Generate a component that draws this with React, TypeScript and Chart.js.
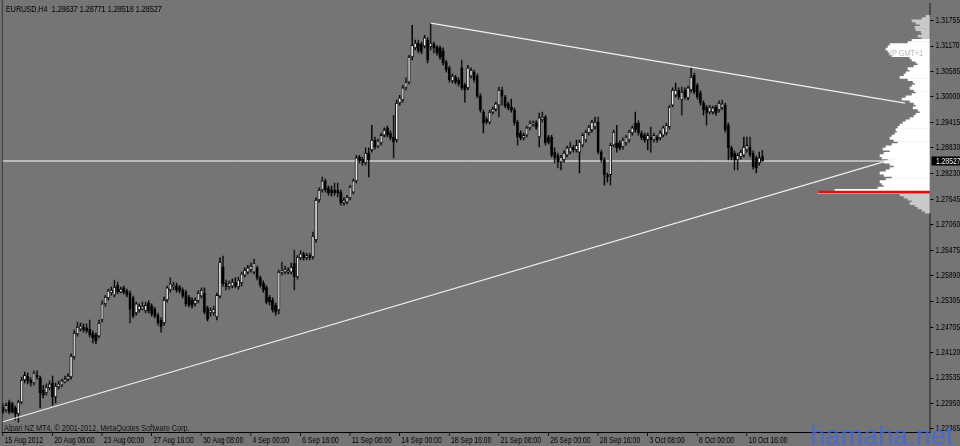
import React, { useEffect, useRef } from 'react';
import { Chart, registerables } from 'chart.js';

Chart.register(...registerables);

const symbolName = 'EURUSD,H4';
const copyrightText = 'Alpari NZ MT4, \u00A9 2001-2012, MetaQuotes Software Corp.';
const vpLabel = 'VP GMT+1';
const watermark = 'hamaha.net';

const opens = [
  1.2287,1.2280,1.2298,1.2294,1.2285,1.2271,1.2298,1.2349,1.2358,1.2349,
  1.2342,1.2360,1.2354,1.2326,1.2319,1.2331,1.2342,1.2310,1.2333,1.2337,
  1.2344,1.2351,1.2356,1.2402,1.2455,1.2466,1.2471,1.2469,1.2466,1.2457,
  1.2452,1.2450,1.2487,1.2524,1.2538,1.2549,1.2544,1.2567,1.2551,1.2561,
  1.2554,1.2549,1.2538,1.2503,1.2510,1.2512,1.2508,1.2526,1.2519,1.2512,
  1.2498,1.2487,1.2480,1.2533,1.2556,1.2563,1.2565,1.2563,1.2556,1.2551,
  1.2540,1.2533,1.2524,1.2531,1.2542,1.2549,1.2515,1.2503,1.2503,1.2494,
  1.2542,1.2609,1.2572,1.2563,1.2565,1.2574,1.2563,1.2572,1.2590,1.2597,
  1.2602,1.2597,1.2607,1.2584,1.2572,1.2563,1.2540,1.2533,1.2521,1.2510,
  1.2595,1.2597,1.2597,1.2597,1.2618,1.2586,1.2630,1.2639,1.2630,1.2636,
  1.2632,1.2671,1.2763,1.2786,1.2807,1.2791,1.2786,1.2786,1.2786,1.2781,
  1.2756,1.2758,1.2768,1.2781,1.2807,1.2862,1.2857,1.2848,1.2871,1.2878,
  1.2901,1.2887,1.2894,1.2912,1.2929,1.2917,1.2908,1.2901,1.2986,1.2993,
  1.3021,1.3034,1.3092,1.3113,1.3124,1.3122,1.3117,1.3131,1.3115,1.3122,
  1.3115,1.3113,1.3106,1.3080,1.3067,1.3037,1.3046,1.3039,1.3067,1.3027,
  1.3021,1.3048,1.3057,1.3048,1.3002,1.2965,1.2949,1.2942,1.2965,1.2972,
  1.2981,1.3016,1.3000,1.2984,1.2977,1.2970,1.2942,1.2917,1.2906,1.2912,
  1.2929,1.2938,1.2940,1.2908,1.2947,1.2954,1.2908,1.2908,1.2873,1.2866,
  1.2850,1.2855,1.2866,1.2873,1.2885,1.2878,1.2873,1.2889,1.2901,1.2917,
  1.2924,1.2931,1.2942,1.2873,1.2855,1.2821,1.2821,1.2889,1.2894,1.2894,
  1.2885,1.2894,1.2901,1.2917,1.2940,1.2940,1.2917,1.2912,1.2901,1.2908,
  1.2901,1.2908,1.2906,1.2912,1.2917,1.2931,1.2981,1.3004,1.3016,1.2993,
  1.3016,1.2998,1.3016,1.3050,1.3027,1.3009,1.2986,1.2977,1.2965,1.2965,
  1.2977,1.2970,1.2975,1.2981,1.2935,1.2883,1.2871,1.2855,1.2862,1.2866,
  1.2878,1.2885,1.2871,1.2860,1.2848,1.28637
];

const highs = [
  1.2294,1.2296,1.2303,1.2298,1.2289,1.2303,1.2356,1.2367,1.2365,1.2354,
  1.2370,1.2370,1.2358,1.2337,1.2340,1.2347,1.2358,1.2342,1.2347,1.2351,
  1.2358,1.2363,1.2409,1.2464,1.2482,1.2480,1.2478,1.2478,1.2487,1.2462,
  1.2457,1.2487,1.2531,1.2544,1.2558,1.2563,1.2579,1.2574,1.2563,1.2565,
  1.2558,1.2554,1.2542,1.2528,1.2524,1.2528,1.2528,1.2531,1.2524,1.2517,
  1.2503,1.2492,1.2540,1.2565,1.2584,1.2574,1.2572,1.2567,1.2561,1.2556,
  1.2544,1.2538,1.2538,1.2554,1.2561,1.2561,1.2519,1.2515,1.2519,1.2549,
  1.2630,1.2634,1.2579,1.2577,1.2581,1.2584,1.2586,1.2597,1.2607,1.2613,
  1.2618,1.2627,1.2611,1.2588,1.2577,1.2567,1.2544,1.2538,1.2526,1.2602,
  1.2620,1.2611,1.2607,1.2618,1.2648,1.2636,1.2646,1.2643,1.2641,1.2641,
  1.2689,1.2768,1.2791,1.2816,1.2811,1.2795,1.2795,1.2802,1.2802,1.2786,
  1.2768,1.2774,1.2797,1.2811,1.2866,1.2866,1.2862,1.2883,1.2883,1.2935,
  1.2908,1.2903,1.2917,1.2929,1.2933,1.2922,1.2958,1.2993,1.3004,1.3027,
  1.3044,1.3096,1.3165,1.3131,1.3131,1.3126,1.3142,1.3136,1.3170,1.3126,
  1.3119,1.3117,1.3113,1.3085,1.3071,1.3053,1.3050,1.3044,1.3085,1.3032,
  1.3073,1.3067,1.3062,1.3053,1.3007,1.2970,1.2954,1.2970,1.2977,1.2988,
  1.3023,1.3023,1.3004,1.2988,1.2995,1.2975,1.2947,1.2922,1.2917,1.2933,
  1.2945,1.2945,1.2945,1.2963,1.2965,1.2958,1.2912,1.2912,1.2883,1.2871,
  1.2866,1.2876,1.2887,1.2896,1.2889,1.2901,1.2901,1.2917,1.2924,1.2935,
  1.2947,1.2954,1.2954,1.2878,1.2860,1.2825,1.2894,1.2924,1.2935,1.2899,
  1.2906,1.2912,1.2924,1.2933,1.2965,1.2945,1.2922,1.2917,1.2917,1.2931,
  1.2917,1.2912,1.2922,1.2933,1.2940,1.2981,1.3021,1.3032,1.3021,1.3023,
  1.3021,1.3025,1.3069,1.3055,1.3032,1.3014,1.2991,1.2981,1.2981,1.2979,
  1.2981,1.2991,1.2993,1.2986,1.2940,1.2887,1.2876,1.2871,1.2878,1.2908,
  1.2908,1.2908,1.2876,1.2864,1.2873,1.28771
];

const lows = [
  1.2271,1.2275,1.2271,1.2273,1.2257,1.2252,1.2294,1.2342,1.2340,1.2335,
  1.2337,1.2351,1.2285,1.2308,1.2314,1.2326,1.2291,1.2296,1.2328,1.2333,
  1.2342,1.2347,1.2351,1.2397,1.2450,1.2462,1.2459,1.2457,1.2448,1.2434,
  1.2432,1.2446,1.2482,1.2519,1.2533,1.2544,1.2540,1.2547,1.2549,1.2547,
  1.2540,1.2480,1.2492,1.2498,1.2505,1.2510,1.2503,1.2503,1.2496,1.2492,
  1.2475,1.2459,1.2475,1.2528,1.2551,1.2556,1.2551,1.2549,1.2538,1.2519,
  1.2517,1.2515,1.2519,1.2526,1.2538,1.2501,1.2485,1.2496,1.2498,1.2487,
  1.2538,1.2565,1.2556,1.2558,1.2561,1.2561,1.2558,1.2565,1.2586,1.2593,
  1.2597,1.2593,1.2579,1.2563,1.2551,1.2524,1.2521,1.2505,1.2498,1.2501,
  1.2590,1.2593,1.2593,1.2593,1.2556,1.2581,1.2625,1.2625,1.2625,1.2625,
  1.2627,1.2666,1.2758,1.2781,1.2781,1.2774,1.2772,1.2774,1.2770,1.2751,
  1.2751,1.2754,1.2763,1.2777,1.2802,1.2848,1.2843,1.2843,1.2816,1.2873,
  1.2880,1.2883,1.2889,1.2908,1.2908,1.2901,1.2860,1.2896,1.2981,1.2988,
  1.3016,1.3030,1.3085,1.3108,1.3101,1.3099,1.3113,1.3078,1.3108,1.3101,
  1.3096,1.3087,1.3073,1.3057,1.3034,1.3032,1.3030,1.3025,1.3016,1.2988,
  1.3016,1.3044,1.3034,1.2998,1.2965,1.2917,1.2938,1.2938,1.2961,1.2968,
  1.2954,1.2981,1.2975,1.2970,1.2965,1.2935,1.2889,1.2901,1.2901,1.2908,
  1.2924,1.2933,1.2926,1.2885,1.2942,1.2889,1.2892,1.2862,1.2848,1.2837,
  1.2832,1.2850,1.2862,1.2869,1.2873,1.2873,1.2825,1.2885,1.2896,1.2912,
  1.2919,1.2926,1.2869,1.2850,1.2797,1.2804,1.2797,1.2885,1.2873,1.2878,
  1.2880,1.2889,1.2896,1.2912,1.2919,1.2912,1.2901,1.2896,1.2878,1.2873,
  1.2896,1.2896,1.2901,1.2908,1.2912,1.2926,1.2977,1.3000,1.2995,1.2958,
  1.2995,1.2993,1.3011,1.3007,1.2995,1.2981,1.2958,1.2935,1.2961,1.2961,
  1.2958,1.2965,1.2970,1.2919,1.2855,1.2855,1.2832,1.2832,1.2857,1.2862,
  1.2873,1.2862,1.2834,1.2825,1.2843,1.28518
];

const closes = [
  1.2275,1.2291,1.2275,1.2275,1.2271,1.2298,1.2349,1.2360,1.2347,1.2342,
  1.2365,1.2356,1.2319,1.2314,1.2333,1.2340,1.2310,1.2335,1.2340,1.2347,
  1.2351,1.2358,1.2404,1.2457,1.2471,1.2473,1.2464,1.2462,1.2452,1.2446,
  1.2439,1.2480,1.2524,1.2540,1.2554,1.2556,1.2563,1.2551,1.2558,1.2551,
  1.2544,1.2512,1.2496,1.2524,1.2519,1.2519,1.2521,1.2508,1.2501,1.2496,
  1.2480,1.2471,1.2533,1.2561,1.2570,1.2567,1.2556,1.2554,1.2542,1.2524,
  1.2521,1.2521,1.2533,1.2549,1.2556,1.2505,1.2489,1.2510,1.2512,1.2544,
  1.2620,1.2570,1.2563,1.2572,1.2574,1.2565,1.2579,1.2593,1.2602,1.2607,
  1.2611,1.2618,1.2584,1.2567,1.2556,1.2528,1.2528,1.2510,1.2505,1.2597,
  1.2602,1.2604,1.2602,1.2609,1.2586,1.2632,1.2639,1.2630,1.2636,1.2630,
  1.2680,1.2763,1.2786,1.2807,1.2786,1.2779,1.2779,1.2779,1.2779,1.2756,
  1.2763,1.2770,1.2793,1.2807,1.2860,1.2853,1.2848,1.2871,1.2855,1.2901,
  1.2885,1.2899,1.2912,1.2924,1.2912,1.2906,1.2896,1.2986,1.2998,1.3021,
  1.3034,1.3092,1.3119,1.3124,1.3106,1.3103,1.3136,1.3085,1.3124,1.3113,
  1.3101,1.3092,1.3078,1.3062,1.3039,1.3048,1.3034,1.3030,1.3021,1.3016,
  1.3067,1.3062,1.3039,1.3002,1.2970,1.2940,1.2942,1.2965,1.2972,1.2984,
  1.3016,1.3002,1.2979,1.2975,1.2970,1.2940,1.2908,1.2906,1.2912,1.2929,
  1.2940,1.2940,1.2931,1.2952,1.2954,1.2894,1.2896,1.2866,1.2860,1.2850,
  1.2862,1.2871,1.2883,1.2885,1.2878,1.2889,1.2896,1.2912,1.2919,1.2931,
  1.2942,1.2942,1.2873,1.2855,1.2821,1.2816,1.2889,1.2919,1.2883,1.2883,
  1.2901,1.2908,1.2919,1.2929,1.2924,1.2917,1.2906,1.2901,1.2912,1.2901,
  1.2912,1.2901,1.2917,1.2929,1.2935,1.2977,1.3016,1.3016,1.3000,1.3011,
  1.3000,1.3021,1.3046,1.3011,1.3000,1.2986,1.2970,1.2963,1.2977,1.2975,
  1.2963,1.2986,1.2984,1.2924,1.2883,1.2862,1.2855,1.2866,1.2873,1.2885,
  1.2889,1.2866,1.2839,1.2837,1.2860,1.28527
];

const xTickIndex = [0, 16, 32, 48, 64, 80, 96, 112, 128, 144, 160, 176, 192, 208, 224, 240];
const xTickLabels = [
  '15 Aug 2012', '20 Aug 08:00', '23 Aug 00:00', '27 Aug 16:00', '30 Aug 08:00',
  '4 Sep 00:00', '6 Sep 16:00', '11 Sep 08:00', '14 Sep 00:00', '18 Sep 16:00',
  '21 Sep 08:00', '26 Sep 00:00', '28 Sep 16:00', '3 Oct 08:00', '8 Oct 00:00', '10 Oct 16:00'
];
const yTickValues = [
  1.31755, 1.31170, 1.30585, 1.30000, 1.29415, 1.28830, 1.28230, 1.27645, 1.27060,
  1.26475, 1.25890, 1.25305, 1.24705, 1.24120, 1.23535, 1.22950, 1.22365
];

const upperTrend = [{ x: 138, y: 1.3170 }, { x: 291, y: 1.2986 }];
const lowerTrend = [{ x: 0, y: 1.2253 }, { x: 288.4, y: 1.2860 }];
const pocStart = 262.9;
const pocPrice = 1.2781;

const vpPrices = [
  1.3185,1.3180,1.3175,1.3170,1.3165,1.3160,1.3155,1.3150,1.3145,1.3140,
  1.3135,1.3130,1.3125,1.3120,1.3115,1.3110,1.3105,1.3100,1.3095,1.3090,
  1.3085,1.3080,1.3075,1.3070,1.3065,1.3060,1.3055,1.3050,1.3045,1.3040,
  1.3035,1.3030,1.3025,1.3020,1.3015,1.3010,1.3005,1.3000,1.2995,1.2990,
  1.2985,1.2980,1.2975,1.2970,1.2965,1.2960,1.2955,1.2950,1.2945,1.2940,
  1.2935,1.2930,1.2925,1.2920,1.2915,1.2910,1.2905,1.2900,1.2895,1.2890,
  1.2885,1.2880,1.2875,1.2870,1.2865,1.2860,1.2855,1.2850,1.2845,1.2840,
  1.2835,1.2830,1.2825,1.2820,1.2815,1.2810,1.2805,1.2800,1.2795,1.2790,
  1.2785,1.2780,1.2775,1.2770,1.2765,1.2760,1.2755,1.2750,1.2745,1.2740,
  1.2735
];
const vpVolumes = [
  4,8,18,14,10,15,14,9,8,12,
  8,18,22,40,42,44,42,40,38,20,
  18,14,12,16,22,20,24,26,30,22,
  17,15,18,20,16,14,18,24,28,20,
  16,14,17,12,10,14,16,20,24,27,
  30,32,34,33,35,38,40,36,32,38,
  44,47,40,46,50,48,42,46,40,36,
  40,44,50,46,38,44,50,48,46,52,
  95,112,30,26,22,18,20,15,12,8,
  5
];
const vpValueAreaHigh = 1.3132;
const vpValueAreaLow = 1.2778;

const BG = '#757575';
const FONT = "'Liberation Sans', Arial, sans-serif";
const W = 1200;
const H = 446;
const SX = 0.8;
const X_MIN = -0.3;
const X_MAX = 299.05;
const Y_MIN = 1.22294;
const Y_MAX = 1.32161;

export default function App() {
  const ref = useRef<HTMLCanvasElement | null>(null);

  useEffect(() => {
    document.body.style.margin = '0';
    const n = closes.length;
    const idx = closes.map((_, i) => i);
    const bid = closes[n - 1];
    const header = `${symbolName}  ${opens[n - 1].toFixed(5)} ${highs[n - 1].toFixed(5)} ${lows[n - 1].toFixed(5)} ${closes[n - 1].toFixed(5)}`;

    const decor = {
      id: 'decor',
      beforeDraw(chart: any) {
        const { ctx, width, height } = chart;
        ctx.save();
        ctx.fillStyle = BG;
        ctx.fillRect(0, 0, width, height);
        ctx.restore();
      },
      afterDraw(chart: any) {
        const { ctx, chartArea } = chart;
        const ys = chart.scales.y;
        ctx.save();
        ctx.strokeStyle = '#1c1c1c';
        ctx.lineWidth = 1;
        ctx.beginPath();
        ctx.moveTo(chartArea.left + 0.5, 0);
        ctx.lineTo(chartArea.left + 0.5, chartArea.bottom);
        ctx.stroke();

        ctx.fillStyle = '#000';
        ctx.font = `9px ${FONT}`;
        ctx.textAlign = 'left';
        ctx.textBaseline = 'alphabetic';
        ctx.fillText(header, 7.5, 11.5);
        ctx.fillStyle = '#111';
        ctx.fillText(copyrightText, 5, 430.5);

        ctx.fillStyle = '#b9b9b9';
        ctx.fillText(vpLabel, 1109, 55.5);

        const py = ys.getPixelForValue(bid);
        ctx.fillStyle = '#000';
        ctx.fillRect(chartArea.right + 2, py - 4.5, 40, 9);
        ctx.fillStyle = '#fff';
        ctx.font = `8.5px ${FONT}`;
        ctx.textBaseline = 'middle';
        ctx.fillText(bid.toFixed(5), chartArea.right + 7.5, py + 0.5);

        ctx.translate(1013, 445);
        ctx.scale(1.255, 1);
        ctx.font = `27px ${FONT}`;
        ctx.textBaseline = 'alphabetic';
        ctx.fillStyle = 'rgba(62,104,232,0.8)';
        ctx.fillText(watermark, 0, 0);
        ctx.restore();
      }
    };

    const tickFont = { family: FONT, size: 8.5 };

    const chart = new Chart(ref.current as HTMLCanvasElement, {
      type: 'bar',
      data: {
        datasets: [
          {
            type: 'bar',
            indexAxis: 'y',
            xAxisID: 'xv',
            yAxisID: 'y',
            data: vpPrices.map((p, k) => ({ x: vpVolumes[k], y: p })),
            backgroundColor: vpPrices.map((p) => (p > vpValueAreaHigh || p < vpValueAreaLow ? '#c9c9c9' : '#ffffff')),
            borderWidth: 0,
            barThickness: 2.2,
            grouped: false,
            order: 6
          } as any,
          {
            type: 'line',
            xAxisID: 'x',
            yAxisID: 'y',
            data: [{ x: X_MIN, y: bid }, { x: X_MAX, y: bid }],
            borderColor: '#ffffff',
            borderWidth: 1,
            pointRadius: 0,
            order: 5
          } as any,
          {
            type: 'bar',
            xAxisID: 'x',
            yAxisID: 'y',
            data: idx.map((i) => ({ x: i, y: [lows[i], highs[i]] })),
            backgroundColor: '#000000',
            borderWidth: 0,
            barThickness: 1,
            grouped: false,
            order: 4
          } as any,
          {
            type: 'bar',
            xAxisID: 'x',
            yAxisID: 'y',
            data: idx.map((i) => ({ x: i, y: [opens[i], closes[i]] })),
            backgroundColor: idx.map((i) => (closes[i] >= opens[i] ? '#ffffff' : '#000000')),
            borderColor: '#000000',
            borderWidth: 1,
            borderSkipped: false,
            barThickness: 3,
            minBarLength: 1,
            grouped: false,
            order: 3
          } as any,
          {
            type: 'line',
            xAxisID: 'x',
            yAxisID: 'y',
            data: upperTrend,
            borderColor: '#f2f2f2',
            borderWidth: 1.2,
            pointRadius: 0,
            order: 2
          } as any,
          {
            type: 'line',
            xAxisID: 'x',
            yAxisID: 'y',
            data: lowerTrend,
            borderColor: '#f2f2f2',
            borderWidth: 1.2,
            pointRadius: 0,
            order: 2
          } as any,
          {
            type: 'line',
            xAxisID: 'x',
            yAxisID: 'y',
            data: [{ x: pocStart, y: pocPrice }, { x: X_MAX, y: pocPrice }],
            borderColor: '#e01010',
            borderWidth: 2.6,
            pointRadius: 0,
            order: 1
          } as any
        ]
      },
      options: {
        responsive: false,
        animation: false,
        devicePixelRatio: 1,
        layout: { padding: { left: 2.5, top: 3, right: 0, bottom: 0 } },
        plugins: { legend: { display: false }, tooltip: { enabled: false } },
        events: [],
        scales: {
          x: {
            type: 'linear',
            position: 'bottom',
            offset: false,
            min: X_MIN,
            max: X_MAX,
            grid: { offset: false, drawOnChartArea: false, drawTicks: true, tickLength: 4, color: '#000' },
            border: { display: true, color: '#000', width: 1 },
            ticks: {
              autoSkip: false,
              maxRotation: 0,
              minRotation: 0,
              align: 'start',
              labelOffset: 2,
              padding: 0,
              color: '#000',
              font: tickFont,
              callback: (_v: any, i: number) => xTickLabels[i] ?? ''
            },
            afterBuildTicks: (s: any) => {
              s.ticks = xTickIndex.map((v) => ({ value: v }));
            },
            afterFit: (s: any) => {
              s.height = 14;
              s.paddingLeft = 0;
              s.paddingRight = 0;
            }
          },
          xv: {
            type: 'linear',
            display: false,
            offset: false,
            grid: { offset: false },
            reverse: true,
            min: 0,
            max: 928
          },
          y: {
            type: 'linear',
            position: 'right',
            offset: false,
            min: Y_MIN,
            max: Y_MAX,
            grid: { offset: false, drawOnChartArea: false, drawTicks: true, tickLength: 4, color: '#000' },
            border: { display: true, color: '#000', width: 1 },
            ticks: {
              autoSkip: false,
              padding: 3,
              color: '#000',
              font: tickFont,
              callback: (v: any) => Number(v).toFixed(5)
            },
            afterBuildTicks: (s: any) => {
              s.ticks = yTickValues.map((v) => ({ value: v }));
            },
            afterFit: (s: any) => {
              s.width = 37.5;
              s.paddingTop = 0;
              s.paddingBottom = 0;
            }
          }
        } as any
      } as any,
      plugins: [decor]
    } as any);

    return () => chart.destroy();
  }, []);

  return (
    <div style={{ width: 960, height: H, overflow: 'hidden', position: 'relative', background: BG }}>
      <div style={{ width: W, height: H, transform: `scaleX(${SX})`, transformOrigin: '0 0' }}>
        <canvas ref={ref} width={W} height={H} style={{ display: 'block', width: W, height: H }} />
      </div>
    </div>
  );
}
